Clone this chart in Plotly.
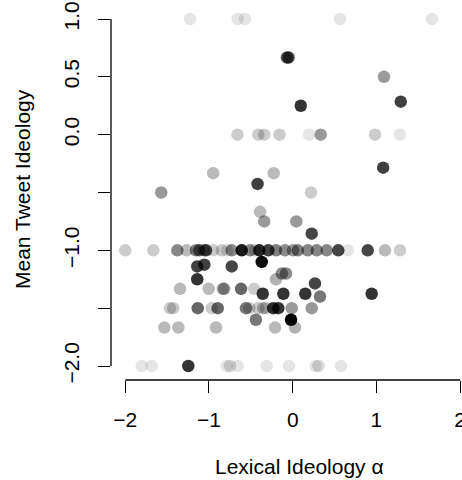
import plotly.graph_objects as go

# Lexical ideology (x), mean tweet ideology (y), point opacity (weight)
lexical = [
    -1.226, -0.657, -0.570, 0.565, 1.663,
    -0.07, -0.05, 1.09, 1.29, 0.096,
    -0.66, -0.41, -0.34, -0.158, 0.195, 0.334, 0.983, 1.28,
    -0.95, -1.57, -0.227, -0.42, -0.39, -0.34, 1.08, 0.218, 0.043, 0.227,
    -2.0, -1.664, -1.378, -1.266, -1.155, -1.115, -1.059, -1.035, -0.948, -0.848,
    -0.784, -0.728, -0.609, -0.510, -0.450, -0.399, -0.291, -0.199, -0.092, 0.004,
    0.060, 0.179, 0.287, 0.406, 0.544, 0.657, 0.896, 1.102, 1.281,
    -0.37, -1.14, -1.055, -0.728, -1.14, -1.346, -1.003, -0.836, -0.82, -0.617,
    -0.459, -0.358, -0.112, -0.2, -0.13, -0.08, 0.15, 0.266, 0.326, 0.943,
    -1.465, -1.426, -1.134, -0.967, -0.896, -0.558, -0.518, -0.411, -0.351, -0.319,
    -0.232, -0.172, -0.012, 0.227,
    -0.44, -0.02,
    -1.533, -1.366, -0.916, -0.211, 0.027,
    -1.803, -1.684, -1.247, -0.788, -0.749, -0.659, -0.310, -0.044, 0.272, 0.308, 0.577,
]
tweet = [
    1.0, 1.0, 1.0, 1.0, 1.0,
    0.667, 0.667, 0.5, 0.285, 0.25,
    0, 0, 0, 0, 0, 0, 0, 0,
    -0.333, -0.5, -0.333, -0.426, -0.667, -0.75, -0.285, -0.5, -0.75, -0.856,
    -1, -1, -1, -1, -1, -1, -1, -1, -1, -1,
    -1, -1, -1, -1, -1, -1, -1, -1, -1, -1,
    -1, -1, -1, -1, -1, -1, -1, -1, -1,
    -1.1, -1.139, -1.124, -1.139, -1.25, -1.333, -1.333, -1.333, -1.333, -1.333,
    -1.333, -1.375, -1.375, -1.25, -1.2, -1.2, -1.375, -1.286, -1.4, -1.375,
    -1.5, -1.5, -1.5, -1.5, -1.5, -1.5, -1.5, -1.5, -1.5, -1.5,
    -1.5, -1.5, -1.5, -1.5,
    -1.6, -1.6,
    -1.667, -1.667, -1.667, -1.667, -1.667,
    -2, -2, -2, -2, -2, -2, -2, -2, -2, -2, -2,
]
weight = [
    0.1, 0.1, 0.1, 0.1, 0.1,
    0.6, 0.7, 0.4, 0.75, 0.8,
    0.2, 0.2, 0.2, 0.2, 0.1, 0.4, 0.2, 0.1,
    0.27, 0.4, 0.27, 0.75, 0.27, 0.4, 0.75, 0.2, 0.4, 0.73,
    0.2, 0.2, 0.47, 0.27, 0.5, 0.6, 0.4, 0.7, 0.2, 0.2,
    0.15, 0.47, 0.9, 0.47, 0.2, 0.85, 0.75, 0.5, 0.45, 0.4,
    0.5, 0.47, 0.47, 0.47, 0.73, 0.1, 0.73, 0.27, 0.2,
    0.95, 0.75, 0.75, 0.73, 0.8, 0.27, 0.27, 0.27, 0.4, 0.6,
    0.2, 0.8, 0.8, 0.3, 0.45, 0.45, 0.8, 0.73, 0.53, 0.8,
    0.2, 0.2, 0.6, 0.2, 0.6, 0.53, 0.2, 0.2, 0.27, 0.2,
    0.8, 0.8, 0.4, 0.4,
    0.53, 1.0,
    0.27, 0.27, 0.27, 0.27, 0.3,
    0.1, 0.1, 0.8, 0.1, 0.15, 0.1, 0.1, 0.1, 0.1, 0.15, 0.1,
]

x_ticks = [-2, -1, 0, 1, 2]
x_tick_text = ["\u22122", "\u22121", "0", "1", "2"]
y_ticks = [-2, -1.5, -1, -0.5, 0, 0.5, 1]
y_tick_text = ["\u22122.0", "", "\u22121.0", "", "0.0", "0.5", "1.0"]

FONT = "Liberation Sans, Arial, Helvetica, sans-serif"
FS = 21

colors = [f"rgba(0,0,0,{w})" for w in weight]

fig = go.Figure(go.Scatter(
    x=lexical, y=tweet, mode="markers",
    marker=dict(size=12.5, color=colors, line=dict(width=0)),
    hoverinfo="skip",
))

W, H = 462, 480
L, R, T, B = 111, 0, 5, 100
pw, ph = W - L - R, H - T - B

fig.update_layout(
    width=W, height=H,
    margin=dict(l=L, r=R, t=T, b=B, autoexpand=False),
    plot_bgcolor="white", paper_bgcolor="white",
    showlegend=False,
    font=dict(family=FONT, size=FS, color="black"),
)
fig.update_xaxes(
    range=[-2.170, 2.0215], showgrid=False, zeroline=False, showline=False,
    tickmode="array", tickvals=x_ticks, ticktext=x_tick_text,
    ticks="outside", ticklen=12, tickwidth=1.3, tickcolor="black",
    tickfont=dict(family=FONT, size=FS), automargin=False,
    ticklabelstandoff=9, ticklabeloverflow="allow",
)
fig.update_yaxes(
    range=[-2.121, 1.121], showgrid=False, zeroline=False, showline=False,
    tickmode="array", tickvals=y_ticks, ticktext=y_tick_text, tickangle=-90,
    ticks="outside", ticklen=12, tickwidth=1.3, tickcolor="black",
    tickfont=dict(family=FONT, size=FS), automargin=False,
    ticklabelstandoff=11, ticklabeloverflow="allow",
)
# R-style axis lines spanning only first to last tick
fig.add_shape(type="line", xref="x", yref="paper", x0=x_ticks[0], x1=x_ticks[-1],
              y0=0, y1=0, line=dict(color="black", width=1.3))
fig.add_shape(type="line", xref="paper", yref="y", x0=0, x1=0,
              y0=y_ticks[0], y1=y_ticks[-1], line=dict(color="black", width=1.3))

fig.add_annotation(text="Lexical Ideology \u03b1", xref="paper", yref="paper",
                   x=(299 - L) / pw, y=(H - B - 466) / ph, xanchor="center", yanchor="middle",
                   showarrow=False, font=dict(family=FONT, size=FS))
fig.add_annotation(text="Mean Tweet Ideology", xref="paper", yref="paper",
                   x=(22 - L) / pw, y=(H - B - 189) / ph, xanchor="center", yanchor="middle",
                   textangle=-90, showarrow=False, font=dict(family=FONT, size=FS))

fig.write_html("out.html")
